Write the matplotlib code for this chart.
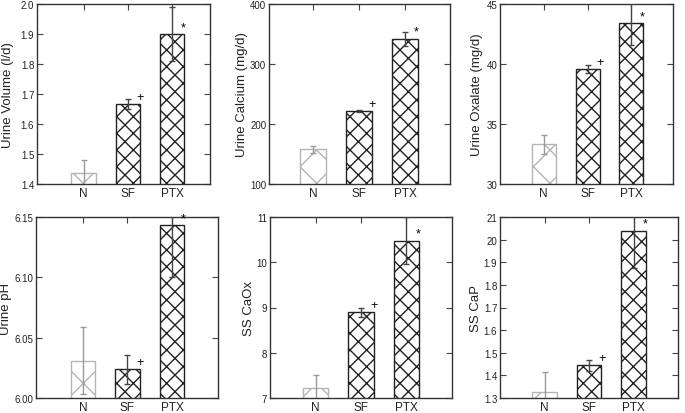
import matplotlib.pyplot as plt
import numpy as np

plt.rcParams['font.family'] = ['Liberation Sans', 'DejaVu Sans']
plt.rcParams['hatch.linewidth'] = 1.0

grupos = ['N', 'SF', 'PTX']

volumen = [1.435, 1.668, 1.90]
volumen_err = [0.045, 0.017, 0.09]
calcio = [158, 222, 342]
calcio_err = [6, 2, 12]
oxalato = [33.3, 39.6, 43.4]
oxalato_err = [0.8, 0.35, 1.8]
ph = [6.031, 6.024, 6.143]
ph_err = [0.028, 0.012, 0.043]
ss_caox = [7.22, 8.9, 10.48]
ss_caox_err = [0.28, 0.1, 0.52]
ss_cap = [1.325, 1.445, 2.04]
ss_cap_err = [0.09, 0.025, 0.165]

marcas = ['', '+', '*']

# (etiqueta, valores, errores, ylim, yticks, ticklabels)
paneles = [
    ('Urine Volume (l/d)', volumen, volumen_err, (1.4, 2.0),
     [1.4, 1.5, 1.6, 1.7, 1.8, 1.9, 2.0], ['1.4', '1.5', '1.6', '1.7', '1.8', '1.9', '2.0']),
    ('Urine Calcium (mg/d)', calcio, calcio_err, (100, 400),
     [100, 200, 300, 400], ['100', '200', '300', '400']),
    ('Urine Oxalate (mg/d)', oxalato, oxalato_err, (30, 45),
     [30, 35, 40, 45], ['30', '35', '40', '45']),
    ('Urine pH', ph, ph_err, (6.0, 6.15),
     [6.0, 6.05, 6.10, 6.15], ['6.00', '6.05', '6.10', '6.15']),
    ('SS CaOx', ss_caox, ss_caox_err, (7, 11),
     [7, 8, 9, 10, 11], ['7', '8', '9', '10', '11']),
    ('SS CaP', ss_cap, ss_cap_err, (1.3, 2.1),
     [1.3, 1.4, 1.5, 1.6, 1.7, 1.8, 1.9, 2.0, 2.1],
     ['1.3', '1.4', '1.5', '1.6', '1.7', '1.8', '1.9', '20', '21']),
]

W, H = 685, 414
# caja de cada eje en pixeles: izq, der, arriba, abajo
cajas = [(37, 210, 5, 185), (269, 450, 5, 185), (500, 673, 5, 185),
         (36, 218, 218, 399), (270, 452, 218, 399), (500, 678, 218, 399)]
xlims = [(-0.05, 3.85), (0.04, 3.98), (0.0, 3.95),
         (-0.05, 4.03), (0.0, 4.0), (0.0, 4.0)]
# borde derecho de la etiqueta y, en pixeles
label_x = [14, 248, 483, 12, 255, 482]

fig = plt.figure(figsize=(W / 100, H / 100), dpi=100)
x = np.arange(1, 4)

bordes = ['#b4b4b4', '#222222', '#222222']
tramas = ['x', 'xx', 'xx']

for (ylabel, vals, errs, ylim, yt, ytl), (l, r, t, b), xl, lx in zip(paneles, cajas, xlims, label_x):
    ax = fig.add_axes([l / W, 1 - b / H, (r - l) / W, (b - t) / H])
    for i in range(3):
        ax.bar(x[i], vals[i], width=0.55, bottom=0, color='white',
               edgecolor=bordes[i], hatch=tramas[i], linewidth=1.0, zorder=2)
    ax.errorbar(x[:1], vals[:1], yerr=errs[:1], fmt='none', ecolor='#999999',
                elinewidth=1, capsize=2.5, zorder=3)
    ax.errorbar(x[1:], vals[1:], yerr=errs[1:], fmt='none', ecolor='#444444',
                elinewidth=1, capsize=2.5, zorder=3)
    rango = ylim[1] - ylim[0]
    for i in range(1, 3):
        ax.text(x[i] + 0.2, vals[i] + 0.005 * rango, marcas[i], fontsize=9,
                ha='left', va='bottom', zorder=4)
    ax.set_ylim(*ylim)
    ax.set_xlim(*xl)
    ax.set_yticks(yt)
    ax.set_yticklabels(ytl, family=['Liberation Sans Narrow', 'Liberation Sans'])
    ax.set_xticks(x)
    ax.set_xticklabels(grupos)
    ax.set_ylabel(ylabel, fontsize=9.5, color='#222222')
    ax.yaxis.set_label_coords((lx - l) / (r - l), 0.5)
    ax.tick_params(direction='in', top=True, right=True, length=4,
                   color='#444444', labelcolor='#222222')
    ax.tick_params(axis='y', labelsize=7, pad=2)
    ax.tick_params(axis='x', labelsize=8.5, pad=2)
    for s in ax.spines.values():
        s.set_color('#333333')
        s.set_linewidth(1.0)

fig.savefig('out.png', dpi=100)
